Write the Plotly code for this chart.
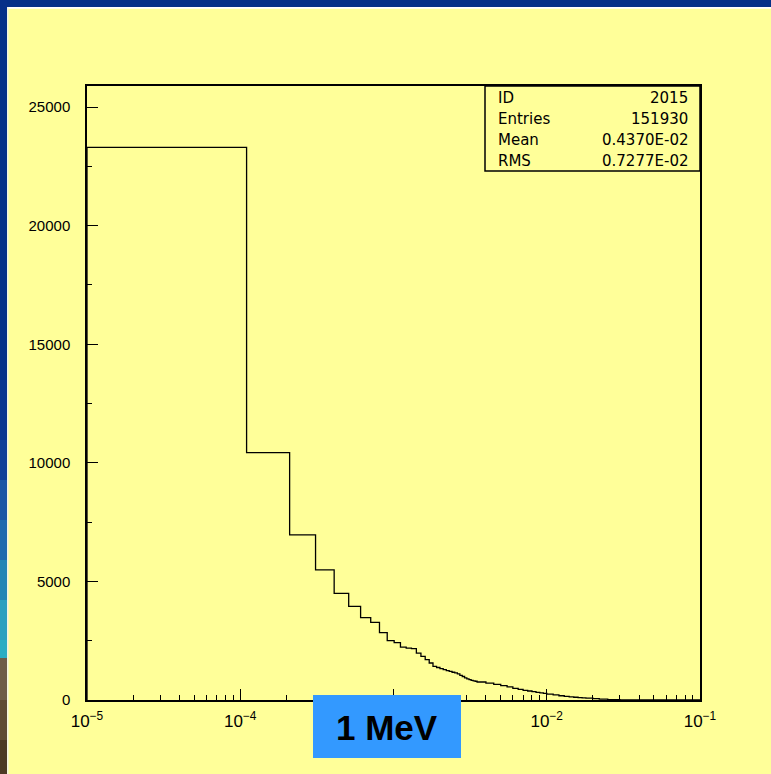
import plotly.graph_objects as go

# ---------------- data ----------------
# fine bins of width 1e-4 starting at 1e-5
fine_start = 1e-5
fine_width = 1e-4
fine_counts = [23300, 10430, 6960, 5490, 4500, 3950, 3470, 3270, 2840, 2500,
               2420, 2230, 2190, 2170, 1980, 1840, 1700, 1560, 1420, 1370,
               1320, 1280, 1240, 1210, 1170, 1140, 1100, 1040, 990, 930,
               890, 860, 830, 810, 790]
# tail read at coarser resolution (counts per 1e-4 bin)
tail_edges = [3.51e-3, 4.01e-3, 4.51e-3, 5.01e-3, 5.51e-3, 6.01e-3, 6.51e-3,
              7.01e-3, 7.51e-3, 8.01e-3, 8.51e-3, 9.01e-3, 9.51e-3, 1.001e-2,
              1.101e-2, 1.201e-2, 1.301e-2, 1.401e-2, 1.501e-2, 1.601e-2,
              1.701e-2, 1.801e-2, 2.001e-2, 2.201e-2, 2.501e-2, 3.001e-2,
              4.001e-2, 1e-1]
tail_counts = [760, 710, 660, 610, 550, 490, 450, 410, 380, 350, 320, 300, 280,
               250, 220, 180, 150, 130, 115, 100, 90, 75, 55, 35, 18, 6, 1]

stats_labels = ["ID", "Entries", "Mean", "RMS"]
stats_values = ["2015", "151930", "0.4370E-02", "0.7277E-02"]

x_tick_vals = [1e-5, 1e-4, 1e-3, 1e-2, 1e-1]
x_tick_text = ["10<sup>−5</sup>", "10<sup>−4</sup>", "", "10<sup>−2</sup>", "10<sup>−1</sup>"]
x_range_log = [-5, -1]
y_range = [0, 25890]

# ---------------- build step outline ----------------
edges = [fine_start + k * fine_width for k in range(len(fine_counts))] + tail_edges
counts = fine_counts + tail_counts
xs = [edges[0]] + edges
ys = [0] + counts + [0]

W, H = 771, 774
L, R, T, B = 87, 700, 86, 700


def px(x):
    return (x - L) / (R - L)


def py(y):
    return (B - y) / (B - T)


fig = go.Figure()
fig.add_trace(go.Scatter(x=xs, y=ys, mode="lines", line_shape="hv",
                         line=dict(color="black", width=1.3),
                         hoverinfo="skip", showlegend=False))

shapes = []
# slide border: top band
shapes.append(dict(type="rect", xref="paper", yref="paper", x0=px(0), x1=px(W),
                   y0=py(7), y1=py(0), fillcolor="#053087", line_width=0, layer="above"))
shapes.append(dict(type="rect", xref="paper", yref="paper", x0=px(7), x1=px(W),
                   y0=py(8.7), y1=py(7), fillcolor="#ffffff", line_width=0, layer="above"))
# left strip bands
bands = [(0, 380, "#063089"), (380, 440, "#0a3590"), (440, 480, "#113f98"),
         (480, 520, "#1a56a5"), (520, 560, "#1f6aae"), (560, 600, "#2385b5"),
         (600, 640, "#2a9fbf"), (640, 658, "#2badc3"), (658, 700, "#6e5c48"),
         (700, 740, "#5e4b35"), (740, 774, "#4c3a24")]
for y0, y1, c in bands:
    shapes.append(dict(type="rect", xref="paper", yref="paper", x0=px(0), x1=px(7),
                       y0=py(y1), y1=py(y0), fillcolor=c, line_width=0, layer="above"))
shapes.append(dict(type="rect", xref="paper", yref="paper", x0=px(7), x1=px(8.5),
                   y0=py(774), y1=py(7), fillcolor="#f4f4e0", line_width=0, layer="above"))
# stats box
shapes.append(dict(type="rect", xref="paper", yref="paper", x0=px(485), x1=px(700),
                   y0=py(171), y1=py(86), fillcolor="rgba(0,0,0,0)",
                   line=dict(color="black", width=1.5), layer="above"))
# blue label box
shapes.append(dict(type="rect", xref="paper", yref="paper", x0=px(313), x1=px(461),
                   y0=py(758), y1=py(695), fillcolor="#3399ff", line_width=0, layer="above"))

annotations = []
row_y = [98, 119, 140, 161]
for lab, val, yy in zip(stats_labels, stats_values, row_y):
    annotations.append(dict(x=px(496), y=py(yy), xref="paper", yref="paper", text=lab,
                            showarrow=False, xanchor="left", yanchor="middle",
                            font=dict(family="DejaVu Sans", size=15, color="black")))
    annotations.append(dict(x=px(690), y=py(yy), xref="paper", yref="paper", text=val,
                            showarrow=False, xanchor="right", yanchor="middle",
                            font=dict(family="DejaVu Sans", size=15, color="black")))
annotations.append(dict(x=px(387), y=py(727), xref="paper", yref="paper", text="<b>1 MeV</b>",
                        showarrow=False, xanchor="center", yanchor="middle",
                        font=dict(family="Liberation Sans", size=35, color="black")))

fig.update_layout(
    width=W, height=H,
    margin=dict(l=L, r=W - R, t=T, b=H - B, pad=0, autoexpand=False),
    paper_bgcolor="#ffff99", plot_bgcolor="#ffff99",
    shapes=shapes, annotations=annotations,
    font=dict(family="Liberation Sans", size=15, color="black"),
)
fig.update_xaxes(type="log", range=x_range_log, tickvals=x_tick_vals, ticktext=x_tick_text,
                 ticks="inside", ticklen=11, tickwidth=1, tickcolor="black",
                 showline=True, linecolor="black", linewidth=1.5, mirror=True,
                 showgrid=False, zeroline=False, automargin=False, ticklabelstandoff=5,
                 tickfont=dict(family="Liberation Sans", size=17, color="black"),
                 minor=dict(ticks="inside", ticklen=5, dtick="D1", tickcolor="black",
                            tickwidth=1, showgrid=False))
fig.update_yaxes(range=y_range, dtick=5000, tickformat="d",
                 ticks="inside", ticklen=11, tickwidth=1, tickcolor="black",
                 showline=True, linecolor="black", linewidth=1.5, mirror=True,
                 showgrid=False, zeroline=False, automargin=False, ticklabelstandoff=12,
                 tickfont=dict(family="Liberation Sans", size=15, color="black"),
                 minor=dict(ticks="inside", ticklen=5, dtick=2500, tickcolor="black",
                            tickwidth=1, showgrid=False))

fig.write_html("out.html")
